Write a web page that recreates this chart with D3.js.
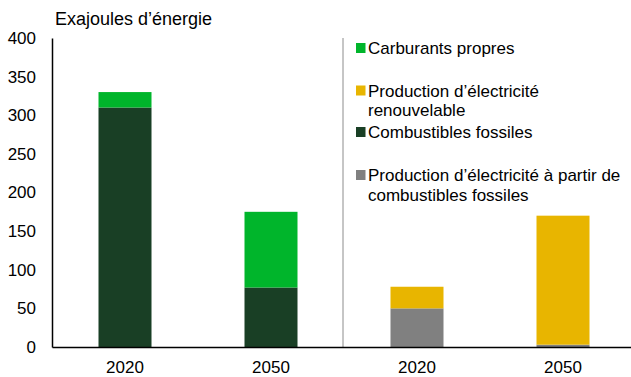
<!DOCTYPE html>
<html>
<head>
<meta charset="utf-8">
<script src="https://cdn.jsdelivr.net/npm/d3@7"></script>
<style>
  html, body { margin: 0; padding: 0; background: #fff; }
  svg { display: block; font-family: "Liberation Sans", Arial, sans-serif; }
</style>
</head>
<body>
<svg id="chart" width="631" height="377"></svg>
<script>
// Four columns: two years for fuel use, two years for power generation
const categories = ["2020a", "2050a", "2020b", "2050b"];
const categoryLabels = ["2020", "2050", "2020", "2050"];

// Stacked series (Exajoules)
const fossilFuels      = [310, 77, 0, 0];
const cleanFuels       = [20, 98, 0, 0];
const fossilPower      = [0, 0, 50, 3];
const renewablePower   = [0, 0, 28, 167];

const yTicks = [0, 50, 100, 150, 200, 250, 300, 350, 400];

const seriesNames = ["fossil", "clean", "fossilPower", "renewable"];
const seriesColors = {
  fossil: "#193F25",
  clean: "#00B52B",
  fossilPower: "#808080",
  renewable: "#E8B500"
};

const legendItems = [
  { key: "clean", lines: ["Carburants propres"] },
  { key: "renewable", lines: ["Production d\u2019électricité", "renouvelable"] },
  { key: "fossil", lines: ["Combustibles fossiles"] },
  { key: "fossilPower", lines: ["Production d\u2019électricité à partir de", "combustibles fossiles"] }
];

const rows = categories.map((c, i) => ({
  cat: c,
  fossil: fossilFuels[i],
  clean: cleanFuels[i],
  fossilPower: fossilPower[i],
  renewable: renewablePower[i]
}));

const svg = d3.select("#chart");
const plotLeft = 52, plotRight = 636, plotTop = 38, plotBottom = 347;
const fontFamily = "Liberation Sans, Arial, sans-serif";

const x = d3.scaleBand().domain(categories).range([plotLeft, plotRight]).paddingInner(0.637).paddingOuter(0.3185);
const y = d3.scaleLinear().domain([0, 400]).range([plotBottom, plotTop]);

const stack = d3.stack().keys(seriesNames);
const layers = stack(rows);

svg.append("g").selectAll("g")
  .data(layers)
  .join("g")
  .attr("fill", d => seriesColors[d.key])
  .selectAll("rect")
  .data(d => d)
  .join("rect")
  .attr("x", d => x(d.data.cat))
  .attr("width", x.bandwidth())
  .attr("y", d => y(d[1]))
  .attr("height", d => y(d[0]) - y(d[1]));

// Y axis
const yAxis = svg.append("g")
  .attr("transform", `translate(${plotLeft},0)`)
  .call(d3.axisLeft(y).tickValues(yTicks).tickSize(0).tickPadding(16));
yAxis.select(".domain").attr("stroke", "#000").attr("stroke-width", 1.5);
yAxis.selectAll("text").attr("font-size", 17).attr("fill", "#000")
  .attr("font-family", fontFamily);

// Separator between the two panels
const sepX = x("2020b") - x.step() * x.paddingInner() / 2 - 1;
svg.append("line")
  .attr("x1", sepX).attr("x2", sepX)
  .attr("y1", plotTop).attr("y2", plotBottom)
  .attr("stroke", "#8c8c8c").attr("stroke-width", 1);

// X axis
const xAxis = svg.append("g")
  .attr("transform", `translate(0,${plotBottom})`)
  .call(d3.axisBottom(x).tickSize(0).tickPadding(14).tickFormat((d, i) => categoryLabels[i]));
xAxis.select(".domain").attr("stroke", "#000").attr("stroke-width", 1.5);
xAxis.selectAll("text").attr("font-size", 17).attr("fill", "#000")
  .attr("font-family", fontFamily);

// Unit title
svg.append("text")
  .attr("x", 55).attr("y", 25)
  .attr("font-size", 18).attr("fill", "#000")
  .text("Exajoules d\u2019énergie");

// Legend
const legendX = 356;
const legendY = [48, 90.5, 132, 175];
legendItems.forEach((item, i) => {
  const g = svg.append("g").attr("transform", `translate(${legendX},${legendY[i]})`);
  g.append("rect").attr("x", 0).attr("y", -5).attr("width", 9.5).attr("height", 10)
    .attr("fill", seriesColors[item.key]);
  item.lines.forEach((t, j) => {
    g.append("text").attr("x", 12).attr("y", 6 + j * 19.5)
      .attr("font-size", 17).attr("fill", "#000").text(t);
  });
});
</script>
</body>
</html>
